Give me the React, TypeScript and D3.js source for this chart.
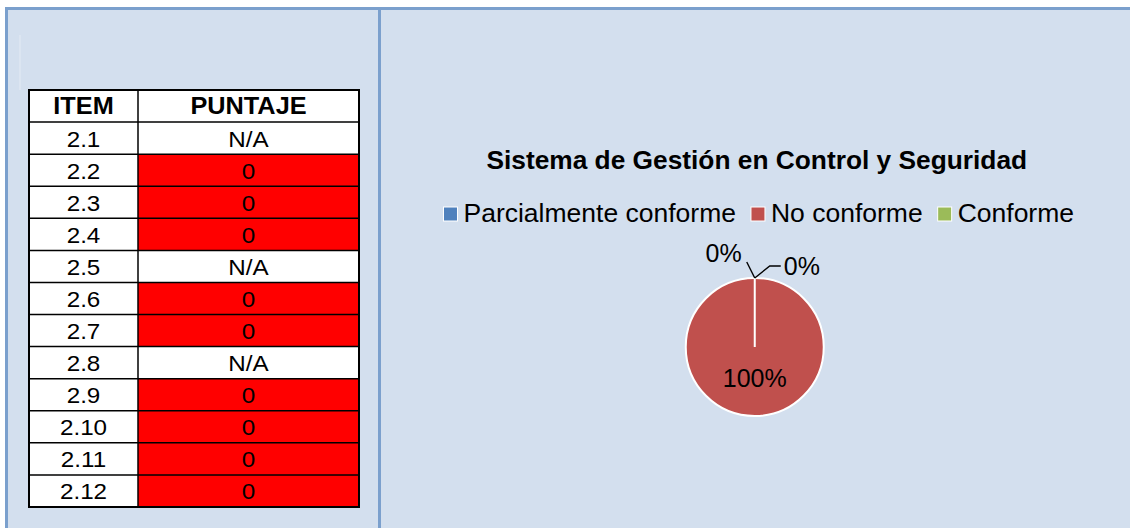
import React, { useMemo } from 'react';
import * as d3 from 'd3';

const headers = ['ITEM', 'PUNTAJE'];
const items = ['2.1', '2.2', '2.3', '2.4', '2.5', '2.6', '2.7', '2.8', '2.9', '2.10', '2.11', '2.12'];
const scores = ['N/A', '0', '0', '0', 'N/A', '0', '0', 'N/A', '0', '0', '0', '0'];

const chartTitle = 'Sistema de Gestión en Control y Seguridad';
const categories = ['Parcialmente conforme', 'No conforme', 'Conforme'];
const shares = [0, 100, 0];
const sliceColors = ['#4F81BD', '#C0504D', '#9BBB59'];

const W = 1130;
const H = 528;
const FONT = '"Liberation Sans", Arial, sans-serif';
const BG = '#D3DFEE';
const FRAME = '#7BA0CD';

const measure = (txt: string, font: string) => {
    const ctx = document.createElement('canvas').getContext('2d');
    if (!ctx) return txt.length * 14;
    ctx.font = font;
    return ctx.measureText(txt).width;
};

const Table: React.FC = () => {
    const y = d3.scaleBand().domain(['header', ...items]).range([90, 507]);
    const x = d3.scaleOrdinal<number, number>().domain([0, 1, 2]).range([29, 138, 359]);
    const rowH = y.bandwidth();
    const colMid = (c: number) => (x(c) + x(c + 1)) / 2;

    return (
        <g>
            {headers.map((h, c) => (
                <g key={h}>
                    <rect x={x(c)} y={y('header')} width={x(c + 1) - x(c)} height={rowH} fill="#fff" />
                    <text
                        transform={`translate(${colMid(c)},${y('header')! + 24}) scale(1.1,1)`}
                        textAnchor="middle" fontFamily={FONT} fontWeight="bold" fontSize={23} fill="#000">
                        {h}
                    </text>
                </g>
            ))}
            {items.map((it, i) => {
                const top = y(it)!;
                const isNA = scores[i] === 'N/A';
                return (
                    <g key={it}>
                        <rect x={x(0)} y={top} width={x(1) - x(0)} height={rowH} fill="#fff" />
                        <rect x={x(1)} y={top} width={x(2) - x(1)} height={rowH} fill={isNA ? '#fff' : '#FF0000'} />
                        <text transform={`translate(${colMid(0)},${top + rowH / 2 + 8.5}) scale(1.1,1)`}
                            textAnchor="middle" fontFamily={FONT} fontSize={22} fill="#000">{it}</text>
                        <text transform={`translate(${colMid(1)},${top + rowH / 2 + 8.5}) scale(1.1,1)`}
                            textAnchor="middle" fontFamily={FONT} fontSize={22} fill="#000">{scores[i]}</text>
                    </g>
                );
            })}
            {['header', ...items].map((r) => (
                <line key={r} x1={x(0)} x2={x(2)} y1={y(r)} y2={y(r)} stroke="#000" strokeWidth={1.5} />
            ))}
            <line x1={x(1)} x2={x(1)} y1={90} y2={507} stroke="#000" strokeWidth={1.5} />
            <rect x={x(0)} y={90} width={x(2) - x(0)} height={507 - 90} fill="none" stroke="#000" strokeWidth={2} />
        </g>
    );
};

const PieChart: React.FC<{ cx: number }> = ({ cx }) => {
    const cy = 347;
    const r = 69;
    const arcs = d3.pie<number>().sort(null).value((d) => d)(shares);
    const arc = d3.arc<d3.PieArcDatum<number>>().innerRadius(0).outerRadius(r);
    const labelArc = d3.arc<d3.PieArcDatum<number>>().innerRadius(r * 0.58).outerRadius(r * 0.58);
    const total = d3.sum(shares);
    const pct = (v: number) => `${Math.round((v / total) * 100)}%`;

    const legendSize = 26.5;
    const legendFont = `${legendSize}px ${FONT}`;
    const marker = 14;
    const gapText = 6;
    const gapItem = 15;
    const widths = categories.map((c) => measure(c, legendFont));
    const itemW = widths.map((w) => marker + gapText + w);
    const totalW = d3.sum(itemW) + gapItem * (categories.length - 1);
    let lx = cx + 4 - totalW / 2;
    const legendX = itemW.map((w) => {
        const p = lx;
        lx += w + gapItem;
        return p;
    });

    return (
        <g>
            <text x={cx + 2} y={169} textAnchor="middle" fontFamily={FONT} fontWeight="bold" fontSize={26.3} fill="#000">
                {chartTitle}
            </text>
            {categories.map((c, i) => (
                <g key={c}>
                    <rect x={legendX[i]} y={207} width={marker} height={marker} fill={sliceColors[i]} stroke="#fff" strokeWidth={1} />
                    <text x={legendX[i] + marker + gapText} y={222} fontFamily={FONT} fontSize={legendSize} fill="#000">{c}</text>
                </g>
            ))}
            <g transform={`translate(${cx},${cy})`}>
                {arcs.map((a, i) => (
                    <path key={i} d={arc(a) || ''} fill={sliceColors[i]} stroke="#fff" strokeWidth={2} />
                ))}
                {arcs.map((a, i) => {
                    const [ox, oy] = [Math.sin(a.startAngle) * r, -Math.cos(a.startAngle) * r];
                    if (a.value > 0) {
                        const [tx, ty] = labelArc.centroid(a);
                        return (
                            <text key={`l${i}`} x={tx} y={ty} textAnchor="middle" fontFamily={FONT} fontSize={25} fill="#000">
                                {pct(a.value)}
                            </text>
                        );
                    }
                    // zero slices get an outside label with a leader line
                    const toRight = a.startAngle < Math.PI;
                    if (toRight) {
                        const ex = ox + 15, ey = oy - 12;
                        return (
                            <g key={`l${i}`}>
                                <polyline points={`${ox},${oy} ${ex},${ey} ${ex + 11},${ey}`} fill="none" stroke="#000" strokeWidth={1.4} />
                                <text x={ex + 14} y={ey + 9} fontFamily={FONT} fontSize={25} fill="#000">{pct(a.value)}</text>
                            </g>
                        );
                    }
                    const ex = ox - 8, ey = oy - 16;
                    return (
                        <g key={`l${i}`}>
                            <polyline points={`${ox},${oy} ${ex},${ey}`} fill="none" stroke="#000" strokeWidth={1.4} />
                            <text x={ex - 5} y={ey} textAnchor="end" fontFamily={FONT} fontSize={25} fill="#000">{pct(a.value)}</text>
                        </g>
                    );
                })}
            </g>
        </g>
    );
};

export default function App() {
    const divider = 379.5;
    const rightMid = useMemo(() => (divider + W) / 2, []);
    return (
        <svg width={W} height={H} style={{ position: 'absolute', left: 0, top: 0, background: '#fff' }}>
            <rect x={6.5} y={8.5} width={W} height={H} fill={BG} />
            <line x1={20} x2={20} y1={35} y2={90} stroke="#E4EBF4" strokeWidth={1} />
            <Table />
            <PieChart cx={rightMid} />
            <line x1={5} x2={W} y1={8.5} y2={8.5} stroke={FRAME} strokeWidth={3} />
            <line x1={6.5} x2={6.5} y1={7} y2={H} stroke={FRAME} strokeWidth={3} />
            <line x1={divider} x2={divider} y1={7} y2={H} stroke={FRAME} strokeWidth={3} />
        </svg>
    );
}
